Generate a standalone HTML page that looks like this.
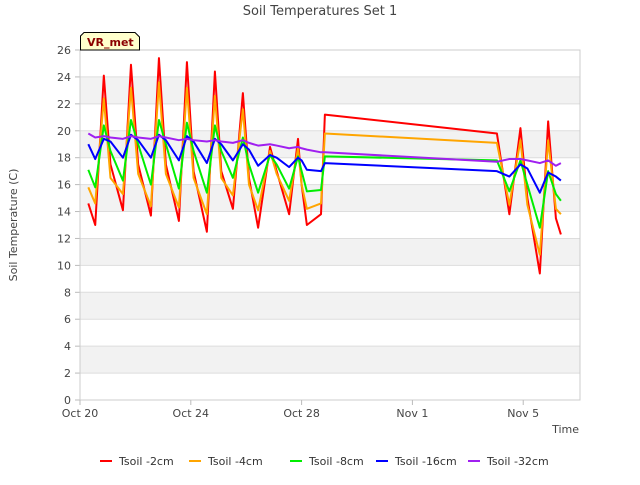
<!DOCTYPE html>
<html><head><meta charset="utf-8"><style>
body{margin:0;background:#fff;font-family:"Liberation Sans","DejaVu Sans",sans-serif}
</style></head><body>
<svg id="c" width="640" height="480" xmlns="http://www.w3.org/2000/svg" font-family="DejaVu Sans, Liberation Sans, sans-serif">
<text x="320" y="15" text-anchor="middle" font-size="13" fill="#444">Soil Temperatures Set 1</text>
<g id="grid"></g><g id="axes"></g><g id="lines"></g>
<text transform="translate(17,225) rotate(-90)" text-anchor="middle" font-size="11" fill="#444">Soil Temperature (C)</text>
<text x="579" y="433" text-anchor="end" font-size="11" fill="#444">Time</text>
<g><path d="M80.5,50 L80.5,36 L84,32.5 L135,32.5 L139.5,37 L139.5,50 Z" fill="#ffffcc" stroke="#000"/><text x="87" y="46" font-size="11" font-weight="bold" fill="#8b0000">VR_met</text></g>
<g id="legend"></g>
</svg>
<script>
const times=[0.3,0.55,0.86,1.1,1.55,1.84,2.1,2.56,2.85,3.1,3.57,3.86,4.1,4.58,4.87,5.1,5.52,5.88,6.1,6.43,6.86,7.1,7.55,7.87,8.0,8.19,8.7,8.84,15.05,15.5,15.9,16.15,16.6,16.9,17.18,17.36];
const red=[14.6,13.0,24.1,17.5,14.1,24.9,17.5,13.7,25.4,17.5,13.3,25.1,17.0,12.5,24.4,17.0,14.2,22.8,16.5,12.8,18.8,17.0,13.8,19.4,16.0,13.0,13.8,21.2,19.8,13.8,20.2,15.0,9.4,20.7,13.5,12.3];
const orange=[15.8,14.6,22.4,16.5,15.3,23.2,16.8,14.4,23.6,16.8,14.3,23.2,16.5,13.8,22.6,16.5,15.2,21.6,16.0,14.1,18.5,16.8,14.8,18.7,16.0,14.2,14.6,19.8,19.1,14.5,19.3,14.5,10.8,19.3,14.2,13.8];
const green=[17.1,15.8,20.4,18.5,16.3,20.8,19.0,16.0,20.8,19.0,15.7,20.6,18.5,15.4,20.4,18.5,16.5,19.5,17.5,15.4,18.2,17.5,15.7,18.1,17.0,15.5,15.6,18.1,17.8,15.5,17.8,16.0,12.8,17.0,15.3,14.8];
const blue=[19.0,17.9,19.4,19.2,18.0,19.7,19.3,18.0,19.7,19.3,17.8,19.6,19.2,17.6,19.4,19.0,17.8,19.0,18.6,17.4,18.2,18.0,17.3,18.0,17.8,17.1,17.0,17.6,17.0,16.6,17.5,17.2,15.4,16.9,16.6,16.3];
const purple=[19.8,19.5,19.6,19.5,19.4,19.6,19.5,19.4,19.6,19.5,19.3,19.4,19.3,19.2,19.3,19.2,19.1,19.3,19.1,18.9,19.0,18.9,18.7,18.8,18.7,18.6,18.4,18.4,17.7,17.9,17.9,17.8,17.6,17.8,17.4,17.6];
const seriesNames=["Tsoil -2cm","Tsoil -4cm","Tsoil -8cm","Tsoil -16cm","Tsoil -32cm"];
const xTickLabels=["Oct 20","Oct 24","Oct 28","Nov 1","Nov 5"];
const xTickDays=[0,4,8,12,16];
const yTicks=[0,2,4,6,8,10,12,14,16,18,20,22,24,26];
const NS="http://www.w3.org/2000/svg";
const X0=80,X1=580,Y0=400,Y1=50,DMAX=18.05;
const xs=d=>X0+d/DMAX*(X1-X0), ys=v=>Y0-v/26*(Y0-Y1);
function mk(t,a,p){const e=document.createElementNS(NS,t);for(const k in a)e.setAttribute(k,a[k]);p.appendChild(e);return e;}
const grid=document.getElementById('grid'),axes=document.getElementById('axes'),lines=document.getElementById('lines'),leg=document.getElementById('legend');
for(let v=2;v<26;v+=4){const r=mk('rect',{x:X0,y:ys(v+2),width:X1-X0,height:ys(v)-ys(v+2),fill:'#f2f2f2'},grid);

}
yTicks.forEach(v=>{const l=mk('line',{x1:X0,x2:X1,y1:ys(v),y2:ys(v),stroke:'#ddd'},grid);


const t=mk('text',{x:X0-9,y:ys(v)+4,'text-anchor':'end','font-size':'11',fill:'#444'},axes);t.textContent=v;


mk('line',{x1:X0-5,x2:X0,y1:ys(v),y2:ys(v),stroke:'#bbb'},axes);});
mk('rect',{x:X0,y:Y1,width:X1-X0,height:Y0-Y1,fill:'none',stroke:'#ccc'},axes);
xTickDays.forEach((d,i)=>{mk('line',{x1:xs(d),x2:xs(d),y1:Y0,y2:Y0+5,stroke:'#bbb'},axes);
const t=mk('text',{x:xs(d),y:Y0+17,'text-anchor':'middle','font-size':'11',fill:'#444'},axes);t.textContent=xTickLabels[i];

});
const data=[red,orange,green,blue,purple],cols=['#ff0000','#ffa500','#00ee00','#0000ff','#a020f0'];
data.forEach((s,k)=>{const p=mk('polyline',{points:s.map((v,i)=>xs(times[i])+','+ys(v)).join(' '),fill:'none',stroke:cols[k],'stroke-width':'2','stroke-linejoin':'round'},lines);

});
const lx=[100,189,290,376,468];
seriesNames.forEach((n,k)=>{const g=mk('g',{},leg);


mk('line',{x1:lx[k],x2:lx[k]+12,y1:461,y2:461,stroke:cols[k],'stroke-width':'2'},g);
const t=mk('text',{x:lx[k]+19,y:465,'font-size':'11',fill:'#333'},g);t.textContent=n;});
</script>
</body></html>
